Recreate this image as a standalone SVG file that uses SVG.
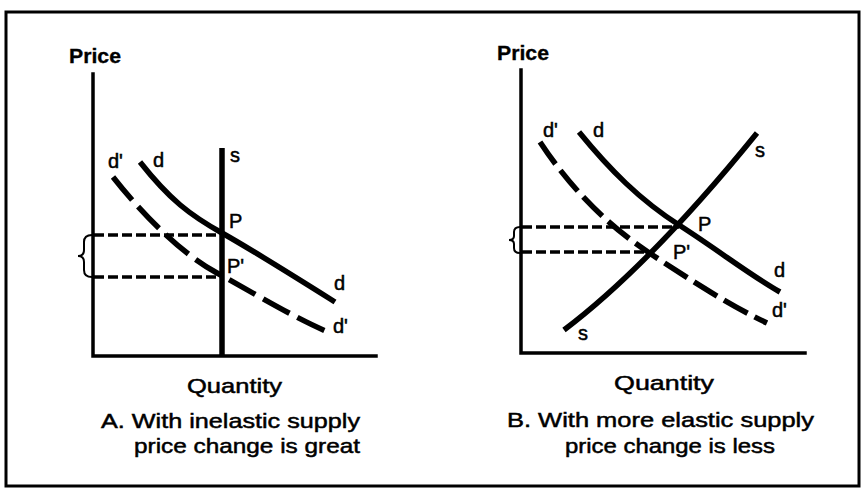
<svg xmlns="http://www.w3.org/2000/svg" width="865" height="489" viewBox="0 0 865 489">
<style>
.t{font-family:"Liberation Sans",Arial,sans-serif;fill:#000;stroke:#000;stroke-width:0.5}
.ax{fill:none;stroke:#000;stroke-width:3.5;stroke-linecap:square}
.sol{fill:none;stroke:#000;stroke-width:5.5;stroke-linecap:butt}
.dsh{fill:none;stroke:#000;stroke-width:5.5;stroke-dasharray:30 9}
.hd{fill:none;stroke:#000;stroke-width:3.5;stroke-dasharray:10 4}
.br{fill:none;stroke:#000;stroke-width:2}
.lab{font-size:20px}
.cap{font-size:21px}
.pr{font-size:20px;font-weight:bold;stroke-width:0.3}
</style>
<rect x="0" y="0" width="865" height="489" fill="#fff"/>
<rect x="6" y="12" width="853" height="474" fill="none" stroke="#000" stroke-width="3"/>

<g id="panelA">
  <g id="A-axes">
    <path class="ax" d="M93,74 L93,356 L376,356"/>
    <text class="t pr" x="69" y="63" textLength="52" lengthAdjust="spacingAndGlyphs">Price</text>
  </g>
  <g id="A-connectors">
    <path class="hd" d="M94,235 L222,235"/>
    <path class="hd" d="M94,277 L220,277"/>
    <path class="br" d="M92,235 Q84,235 84,242 L84,250 Q84,256 78,256 Q84,256 84,262 L84,270 Q84,277 92,277"/>
  </g>
  <g id="A-supply">
    <path class="sol" d="M222,148 L222,357"/>
    <text class="t lab" x="230" y="162">s</text>
  </g>
  <g id="A-demand">
    <path class="sol" d="M140,162 C170,200 190,215 222,233 S300,280 335,302"/>
    <text class="t lab" x="153" y="167">d</text>
    <text class="t lab" x="334" y="290">d</text>
  </g>
  <g id="A-demand2">
    <path class="dsh" d="M113,177 C135,205 175,250 217,273 S295,318 328,332"/>
    <text class="t lab" x="108" y="168">d'</text>
    <text class="t lab" x="333" y="333">d'</text>
  </g>
  <g id="A-points">
    <text class="t lab" x="229" y="228">P</text>
    <text class="t lab" x="227" y="273">P'</text>
  </g>
  <g id="A-captions">
    <text class="t cap" x="187" y="393" textLength="95" lengthAdjust="spacingAndGlyphs">Quantity</text>
    <text class="t cap" x="101" y="428" textLength="259" lengthAdjust="spacingAndGlyphs">A. With inelastic supply</text>
    <text class="t cap" x="134" y="453" textLength="226" lengthAdjust="spacingAndGlyphs">price change is great</text>
  </g>
</g>

<g id="panelB">
  <g id="B-axes">
    <path class="ax" d="M521,70 L521,353 L805,353"/>
    <text class="t pr" x="497" y="60" textLength="52" lengthAdjust="spacingAndGlyphs">Price</text>
  </g>
  <g id="B-connectors">
    <path class="hd" d="M522,227 L679,227"/>
    <path class="hd" d="M522,252 L650,252"/>
    <path class="br" d="M520,227 Q514,227 514,232 L514,236 Q514,240 509,240 Q514,240 514,244 L514,248 Q514,253 520,253"/>
  </g>
  <g id="B-supply">
    <path class="sol" d="M564,330 Q650,265 757,133"/>
    <text class="t lab" x="755" y="157">s</text>
    <text class="t lab" x="578" y="340">s</text>
  </g>
  <g id="B-demand">
    <path class="sol" d="M579,132 C610,170 640,200 679,225 S750,275 780,292"/>
    <text class="t lab" x="593" y="137">d</text>
    <text class="t lab" x="774" y="277">d</text>
  </g>
  <g id="B-demand2">
    <path class="dsh" d="M540,142 C565,180 600,220 648,252 S735,308 767,323" style="stroke-dasharray:27 8"/>
    <text class="t lab" x="543" y="137">d'</text>
    <text class="t lab" x="772" y="317">d'</text>
  </g>
  <g id="B-points">
    <text class="t lab" x="698" y="231">P</text>
    <text class="t lab" x="673" y="259">P'</text>
  </g>
  <g id="B-captions">
    <text class="t cap" x="614" y="390" textLength="100" lengthAdjust="spacingAndGlyphs">Quantity</text>
    <text class="t cap" x="507" y="427" textLength="307" lengthAdjust="spacingAndGlyphs">B. With more elastic supply</text>
    <text class="t cap" x="565" y="453" textLength="210" lengthAdjust="spacingAndGlyphs">price change is less</text>
  </g>
</g>
</svg>
